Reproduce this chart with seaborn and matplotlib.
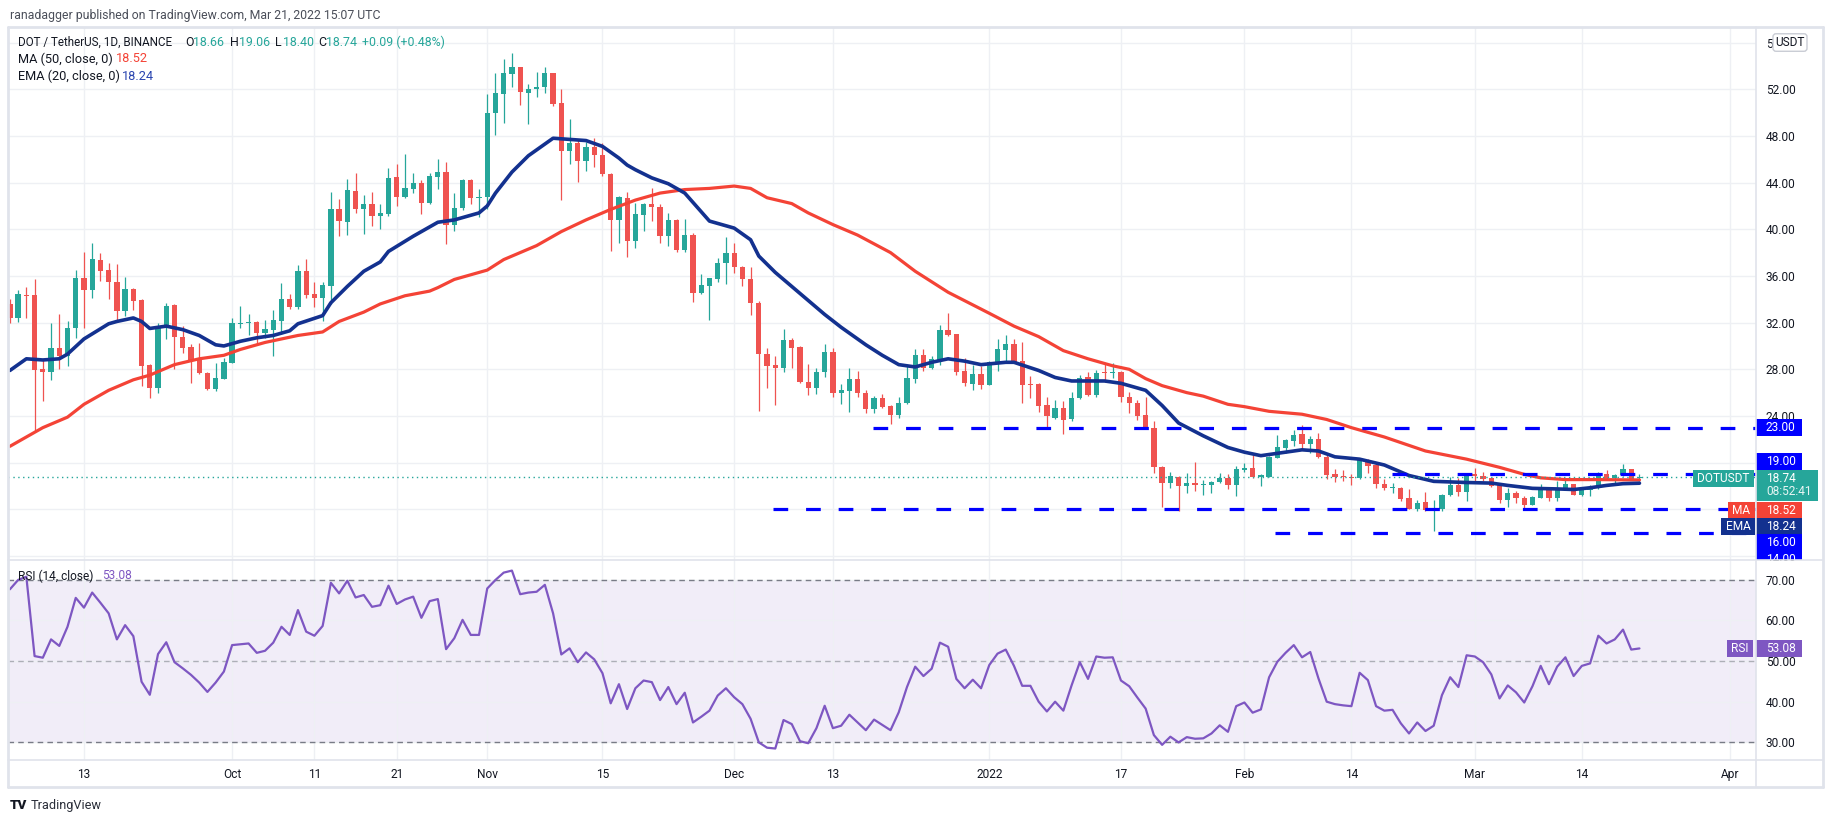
import numpy as np
import pandas as pd
import seaborn as sns
import matplotlib
matplotlib.use('Agg')
import matplotlib.pyplot as plt
import matplotlib.dates as mdates
import matplotlib.transforms as mtransforms
from matplotlib import font_manager
from matplotlib.patches import Rectangle, FancyBboxPatch

# ---------------- data ----------------
# DOT/USDT daily candles, 4 Sep 2021 .. 21 Mar 2022
start, end = '2021-09-04', '2022-03-21'
opens = [
    33.57, 32.37, 34.37, 34.34, 28.00, 27.77, 29.86, 29.14, 31.57, 35.80,
    34.80, 37.34, 36.49, 35.51, 33.00, 34.86, 33.91, 28.34, 26.37, 31.57,
    33.49, 30.80, 29.91, 28.86, 27.71, 26.29, 27.20, 28.57, 31.91, 32.00,
    32.06, 31.14, 31.37, 32.14, 34.00, 33.34, 36.43, 34.43, 34.09, 35.14,
    41.71, 40.63, 43.29, 41.71, 42.14, 41.14, 41.29, 44.49, 42.77, 43.49,
    43.94, 42.23, 44.49, 44.94, 40.37, 41.80, 44.20, 42.71, 42.77, 50.00,
    51.57, 53.29, 53.86, 51.66, 52.00, 52.20, 53.37, 50.80, 46.71, 47.43,
    45.86, 47.09, 46.37, 44.77, 40.80, 42.71, 39.00, 41.23, 42.14, 41.94,
    39.43, 40.77, 38.20, 39.49, 34.51, 35.14, 35.71, 37.14, 38.00, 36.80,
    35.77, 33.71, 29.34, 28.34, 28.14, 30.49, 29.91, 26.94, 26.43, 27.77,
    29.51, 26.00, 26.14, 27.14, 26.00, 24.57, 25.51, 24.86, 24.09, 25.09,
    27.14, 29.20, 28.09, 28.71, 31.34, 31.00, 27.83, 26.71, 27.57, 26.66,
    28.51, 29.63, 30.14, 28.69, 26.77, 26.71, 24.91, 23.86, 24.66, 23.71,
    25.51, 27.37, 25.77, 27.74, 27.66, 27.77, 25.66, 25.14, 24.06, 23.00,
    19.66, 18.23, 18.80, 18.00, 18.29, 18.09, 18.09, 18.34, 18.69, 18.09,
    19.34, 19.57, 18.80, 18.80, 20.43, 21.23, 21.86, 22.43, 21.57, 22.00,
    20.51, 19.00, 18.80, 18.77, 18.66, 20.20, 19.77, 18.20, 17.83, 17.86,
    16.94, 16.05, 16.66, 16.00, 16.05, 17.23, 18.05, 17.48, 19.00, 18.85,
    18.66, 18.05, 16.80, 17.37, 17.00, 16.37, 17.00, 17.86, 16.94, 17.71,
    18.14, 17.23, 17.66, 17.80, 19.05, 18.66, 18.94, 19.43, 18.66,
]
highs = [
    34.00, 34.80, 35.09, 35.72, 28.86, 31.94, 32.71, 32.14, 36.49, 38.09,
    38.80, 38.00, 37.14, 37.00, 35.94, 34.94, 34.00, 28.43, 32.00, 33.66,
    33.57, 31.71, 30.14, 30.23, 27.77, 28.57, 29.00, 32.37, 33.43, 32.71,
    32.14, 32.23, 33.09, 35.37, 34.43, 36.91, 37.49, 35.51, 35.49, 43.23,
    42.57, 44.29, 44.80, 42.94, 43.23, 42.14, 45.29, 45.57, 46.43, 44.80,
    44.20, 44.80, 46.00, 45.80, 43.14, 44.34, 44.34, 43.43, 51.57, 53.37,
    54.57, 55.09, 53.94, 52.43, 53.49, 53.86, 53.43, 52.06, 49.43, 47.66,
    47.49, 47.86, 47.43, 44.80, 42.86, 43.20, 42.23, 42.29, 43.57, 42.14,
    41.43, 40.86, 40.91, 39.66, 36.14, 35.86, 37.57, 39.37, 38.80, 36.86,
    36.80, 33.86, 29.80, 29.14, 31.49, 30.66, 30.00, 28.43, 28.14, 30.14,
    29.86, 26.71, 28.09, 27.86, 26.20, 25.71, 25.86, 24.94, 25.63, 28.29,
    29.77, 29.71, 29.14, 31.77, 32.80, 31.06, 29.00, 28.37, 28.29, 28.71,
    30.63, 30.91, 30.57, 30.37, 27.43, 26.80, 25.63, 25.34, 25.29, 26.06,
    27.49, 27.77, 27.94, 28.43, 28.57, 27.86, 26.09, 25.34, 25.66, 23.57,
    19.71, 19.23, 18.86, 19.09, 20.09, 18.51, 18.43, 19.09, 19.00, 19.71,
    20.00, 20.63, 19.00, 20.57, 22.34, 22.06, 22.77, 23.20, 22.28, 22.51,
    20.71, 19.43, 19.37, 19.00, 20.40, 20.28, 19.85, 18.63, 18.23, 17.94,
    17.77, 16.77, 17.51, 16.77, 17.28, 18.77, 18.71, 19.14, 19.57, 19.23,
    18.71, 18.11, 17.85, 17.57, 17.14, 17.14, 18.14, 17.94, 18.43, 18.71,
    18.20, 17.85, 18.05, 19.20, 19.34, 19.05, 19.85, 19.48, 19.06,
]
lows = [
    32.00, 32.06, 32.43, 22.72, 25.29, 27.09, 28.00, 28.29, 30.71, 31.57,
    34.09, 35.57, 34.06, 32.23, 32.57, 33.09, 26.57, 25.57, 26.00, 30.57,
    28.00, 29.43, 26.86, 27.57, 26.23, 26.14, 27.14, 28.51, 31.57, 30.91,
    30.14, 30.71, 29.14, 31.00, 33.14, 33.14, 34.14, 33.37, 32.14, 33.57,
    39.43, 39.49, 41.37, 39.57, 40.29, 40.00, 41.14, 42.00, 42.71, 43.09,
    41.29, 42.14, 43.43, 38.71, 39.86, 41.66, 42.14, 41.09, 41.71, 48.06,
    49.09, 52.23, 50.63, 49.00, 51.37, 51.71, 50.57, 42.51, 45.57, 44.06,
    45.00, 45.37, 44.57, 38.14, 38.86, 37.66, 38.37, 39.86, 40.71, 38.80,
    38.57, 38.06, 38.06, 33.77, 34.43, 32.23, 35.49, 35.29, 36.29, 35.14,
    32.66, 24.43, 26.37, 24.94, 27.77, 28.14, 26.86, 25.80, 25.91, 27.37,
    25.63, 25.00, 24.34, 25.63, 24.23, 24.23, 24.66, 23.29, 23.86, 25.00,
    26.86, 27.86, 28.00, 28.34, 30.86, 27.49, 26.57, 26.23, 26.34, 26.63,
    27.86, 28.71, 28.57, 25.09, 25.51, 24.34, 23.00, 23.71, 22.43, 23.57,
    25.49, 25.71, 25.66, 26.91, 27.29, 25.20, 24.29, 23.66, 22.91, 19.14,
    16.20, 17.86, 15.86, 17.37, 17.57, 17.23, 17.37, 18.23, 17.71, 17.14,
    19.23, 18.71, 18.00, 18.77, 20.43, 20.86, 21.43, 21.06, 20.80, 20.43,
    18.63, 18.34, 18.43, 18.06, 18.63, 19.08, 17.80, 17.63, 17.37, 16.71,
    16.00, 15.85, 15.85, 14.14, 15.85, 17.14, 17.14, 16.71, 18.34, 18.43,
    17.91, 16.57, 16.20, 16.57, 16.05, 16.34, 16.94, 16.71, 16.71, 17.63,
    17.20, 17.14, 17.14, 17.71, 18.57, 18.23, 18.85, 18.48, 18.40,
]
closes = [
    32.43, 34.43, 34.29, 27.94, 27.77, 29.86, 29.14, 31.57, 35.80, 34.80,
    37.43, 36.43, 35.49, 33.00, 34.86, 33.86, 28.29, 26.37, 31.63, 33.43,
    30.80, 29.86, 28.71, 27.66, 26.29, 27.29, 28.66, 31.94, 32.00, 32.06,
    31.14, 31.43, 32.20, 34.00, 33.34, 36.43, 34.37, 34.09, 35.20, 41.71,
    40.71, 43.34, 41.71, 42.14, 41.14, 41.37, 44.43, 42.77, 43.51, 43.94,
    42.23, 44.57, 44.94, 40.37, 41.86, 44.20, 42.66, 42.80, 50.00, 51.66,
    53.37, 53.86, 51.77, 52.06, 52.23, 53.37, 50.71, 46.71, 47.43, 45.86,
    47.09, 46.37, 44.71, 40.80, 42.77, 39.00, 41.29, 42.14, 41.94, 39.43,
    40.77, 38.20, 39.49, 34.51, 35.20, 35.80, 37.14, 37.94, 36.80, 35.77,
    33.66, 29.34, 28.29, 28.14, 30.51, 29.86, 26.91, 26.43, 27.80, 29.51,
    26.00, 26.23, 27.14, 26.00, 24.57, 25.51, 24.77, 24.09, 25.14, 27.23,
    29.20, 28.09, 28.86, 31.34, 30.91, 27.77, 26.80, 27.57, 26.66, 28.63,
    29.71, 30.14, 28.63, 26.63, 26.66, 24.86, 24.00, 24.66, 23.66, 25.57,
    27.29, 25.80, 27.71, 27.66, 27.74, 25.63, 25.14, 24.00, 23.00, 19.63,
    18.23, 18.86, 18.00, 18.29, 18.09, 18.14, 18.37, 18.69, 18.09, 19.43,
    19.57, 18.77, 18.91, 20.51, 21.37, 21.91, 22.34, 21.57, 22.00, 20.48,
    18.91, 18.77, 18.74, 18.71, 20.28, 19.71, 18.14, 17.80, 17.91, 16.86,
    16.05, 16.57, 15.94, 16.14, 17.23, 18.05, 17.48, 18.97, 18.85, 18.57,
    18.00, 16.80, 17.37, 16.94, 16.37, 17.05, 17.91, 16.94, 17.77, 18.14,
    17.23, 17.71, 17.86, 19.05, 18.66, 18.94, 19.43, 18.57, 18.74,
]
rsi = [
    67.6, 69.9, 70.7, 51.2, 50.8, 55.3, 53.7, 58.4, 65.5, 63.1,
    66.8, 64.3, 61.7, 55.3, 58.8, 56.1, 44.9, 41.7, 51.7, 54.6,
    49.7, 48.2, 46.6, 44.7, 42.4, 44.7, 47.4, 53.9, 54.1, 54.3,
    52.0, 52.5, 54.5, 58.4, 56.4, 62.5, 57.2, 56.2, 58.6, 69.2,
    66.6, 69.7, 65.6, 66.2, 63.3, 63.7, 68.5, 64.0, 65.1, 65.8,
    60.6, 64.7, 65.2, 52.9, 55.6, 60.1, 56.4, 56.4, 67.8, 69.9,
    71.7, 72.2, 66.4, 66.8, 67.0, 68.7, 61.7, 51.6, 53.1, 49.7,
    52.1, 50.4, 47.0, 39.6, 44.3, 38.2, 43.3, 45.2, 44.8, 40.4,
    43.6, 39.4, 42.2, 34.9, 36.3, 37.8, 41.5, 43.3, 41.1, 39.4,
    35.8, 30.0, 28.7, 28.5, 35.5, 34.5, 30.3, 29.8, 33.5, 39.0,
    33.5, 34.1, 36.8, 34.9, 33.0, 35.6, 34.3, 33.0, 37.4, 43.6,
    48.6, 46.3, 48.1, 54.5, 53.5, 45.6, 43.3, 45.4, 43.3, 49.0,
    51.8, 52.8, 48.8, 43.9, 43.9, 40.0, 37.6, 40.0, 37.8, 44.0,
    49.7, 45.6, 51.1, 50.8, 50.9, 45.2, 43.8, 41.0, 38.3, 31.8,
    29.4, 31.4, 30.0, 31.3, 30.9, 31.0, 32.2, 34.2, 32.6, 38.9,
    39.8, 37.3, 38.1, 46.0, 49.8, 52.0, 53.9, 50.9, 52.2, 45.7,
    40.0, 39.4, 39.1, 38.9, 47.1, 45.3, 38.9, 37.8, 38.0, 34.7,
    32.2, 34.9, 32.8, 34.1, 41.6, 46.0, 43.6, 51.4, 51.1, 49.7,
    46.7, 40.8, 44.0, 42.3, 39.8, 43.8, 48.8, 44.3, 48.6, 50.9,
    46.3, 48.8, 49.4, 56.2, 54.3, 55.3, 57.7, 52.8, 53.08,
]

# moving averages as drawn, sampled along the curve (days after 13 Sep 2021)
ref_day = '2021-09-13'
ema_days = [-9, -7, -5, -3, -2, 0, 3, 4, 6, 7, 8, 10, 12, 14, 16, 17, 19, 21, 23, 25,
            26, 29, 30, 32, 34, 36, 37, 40, 43, 45, 48, 49, 50, 52, 54, 56, 57, 59, 61, 63,
            65, 66, 67, 69, 71, 73, 75, 76, 79, 81, 82, 84, 86, 88, 90, 92, 93, 95, 97, 99,
            101, 103, 105, 107, 109, 112, 113, 116, 118, 120, 124, 126, 129, 131, 133, 136,
            139, 141, 143, 145, 148, 150, 152, 155, 158, 161, 164, 168, 171, 173, 176, 179,
            181, 183, 185, 187, 189]
ema_vals = [27.9, 28.9, 28.8, 28.9, 29.3, 30.6, 31.9, 32.1, 32.4, 32.1, 31.5, 31.7, 31.4,
            30.9, 30.1, 30.0, 30.4, 30.7, 30.9, 31.3, 31.9, 32.6, 33.7, 35.1, 36.4, 37.2,
            38.1, 39.4, 40.6, 40.8, 41.4, 42.0, 43.1, 44.9, 46.3, 47.3, 47.8, 47.7, 47.6,
            47.1, 46.1, 45.5, 45.1, 44.4, 43.9, 43.1, 41.5, 40.7, 40.1, 39.1, 37.7, 36.3,
            35.1, 33.9, 32.7, 31.6, 31.1, 30.1, 29.2, 28.4, 28.2, 28.6, 28.9, 28.7, 28.4,
            28.6, 28.6, 27.9, 27.3, 27.0, 27.0, 26.8, 26.2, 24.9, 23.4, 22.3, 21.3, 20.9,
            20.6, 20.8, 21.1, 21.0, 20.5, 20.3, 19.8, 18.9, 18.4, 18.3, 18.25, 18.05, 17.8,
            17.75, 17.7, 17.85, 18.05, 18.2, 18.24]
ma_days = [-9, -7, -5, -2, 0, 3, 6, 8, 11, 14, 17, 19, 22, 26, 29, 31, 34, 36, 39, 42,
           43, 45, 49, 51, 55, 58, 61, 64, 67, 70, 73, 76, 79, 81, 83, 86, 88, 91, 94, 98,
           101, 105, 110, 113, 116, 119, 122, 125, 127, 129, 131, 134, 136, 139, 141, 144,
           148, 151, 154, 158, 163, 168, 172, 175, 177, 180, 184, 189]
ma_vals = [21.4, 22.2, 23.0, 23.9, 25.0, 26.2, 27.1, 27.5, 28.4, 28.9, 29.2, 29.7, 30.3,
           30.9, 31.2, 32.1, 32.9, 33.6, 34.3, 34.7, 35.0, 35.7, 36.5, 37.4, 38.6, 39.8,
           40.8, 41.7, 42.5, 43.1, 43.4, 43.5, 43.7, 43.5, 42.7, 42.2, 41.4, 40.4, 39.5,
           38.0, 36.4, 34.6, 32.8, 31.7, 30.8, 29.6, 28.9, 28.3, 28.0, 27.2, 26.6, 26.0,
           25.7, 25.0, 24.8, 24.4, 24.15, 23.7, 23.0, 22.2, 21.0, 20.3, 19.6, 19.0, 18.7,
           18.55, 18.55, 18.52]

# horizontal levels drawn by the author, and the day each one starts
levels = [23.0, 19.0, 16.0, 14.0]
level_from = [95.9, 158.9, 83.7, 144.7]

tick_dates = ['2021-09-13', '2021-10-01', '2021-10-11', '2021-10-21', '2021-11-01',
              '2021-11-15', '2021-12-01', '2021-12-13', '2022-01-01', '2022-01-17',
              '2022-02-01', '2022-02-14', '2022-03-01', '2022-03-14', '2022-04-01']
tick_labels = ['13', 'Oct', '11', '21', 'Nov', '15', 'Dec', '13', '2022', '17',
               'Feb', '14', 'Mar', '14', 'Apr']
price_ticks = list(range(12, 57, 4))
rsi_ticks = [30, 40, 50, 60, 70]

# ---------------- style ----------------
UP, DOWN = '#26a69a', '#ef5350'
MA_C, EMA_C, LVL_C, RSI_C = '#f44336', '#13318f', '#0000ff', '#7e57c2'
TXT, FRAME, GRID = '#131722', '#e0e3eb', '#eef0f4'

sns.set_theme(style='white')
installed = {f.name for f in font_manager.fontManager.ttflist}
if 'Liberation Sans Narrow' in installed:
    FONT, FS = 'Liberation Sans Narrow', 10
else:
    FONT, FS = 'Roboto', 8.6
plt.rcParams['font.family'] = [FONT, 'DejaVu Sans']

W, H = 1834, 823
fig = plt.figure(figsize=(W / 100, H / 100), dpi=100)
fig.patch.set_facecolor('white')
px = mtransforms.Affine2D().scale(1 / W, -1 / H).translate(0, 1) + fig.transFigure

ax = fig.add_axes([8 / W, 1 - 560 / H, 1748 / W, 533 / H])
axr = fig.add_axes([8 / W, 1 - 760 / H, 1748 / W, 200 / H], sharex=ax)

x0 = mdates.date2num(pd.Timestamp(ref_day))
xs = mdates.date2num(pd.date_range(start, end, freq='D'))
xlim = (x0 - 9.23, x0 + 203.16)
p_lim = (11.66, 57.33)
r_lim = (25.68, 74.8)

# ---------------- price panel ----------------
o, hi, lo, c = map(np.array, (opens, highs, lows, closes))
cols = np.where(c >= o, UP, DOWN)
ax.vlines(xs, lo, hi, colors=cols, lw=0.9, zorder=2)
ax.bar(xs, np.maximum(np.abs(c - o), 0.09), bottom=np.minimum(o, c), width=0.64,
       color=cols, lw=0, zorder=3)

sns.lineplot(x=x0 + np.array(ma_days), y=ma_vals, ax=ax, color=MA_C, lw=2.3,
             sort=False, estimator=None, zorder=4)
sns.lineplot(x=x0 + np.array(ema_days), y=ema_vals, ax=ax, color=EMA_C, lw=2.6,
             sort=False, estimator=None, zorder=4)

for lv, d in zip(levels, level_from):
    ax.hlines(lv, x0 + d, xlim[1], colors=LVL_C, lw=2.3,
              linestyles=[(0, (4.6, 5.6))], zorder=5)
ax.axhline(closes[-1], color=UP, lw=1, ls=(0, (1, 2.5)), zorder=4)

ax.set_xlim(*xlim)
ax.set_ylim(*p_lim)
ax.set_yticks(price_ticks)
# the top label sits under the currency badge; only its first digit shows
ax.set_yticklabels([f'{v:.2f}' for v in price_ticks[:-1]] + ['5'])
ax.yaxis.tick_right()
ax.tick_params(axis='y', length=0, pad=7, labelsize=FS, labelcolor=TXT)
ax.tick_params(axis='x', length=0, labelbottom=False)
ax.grid(True, color=GRID, lw=1, zorder=0)
for s in ax.spines.values():
    s.set_visible(False)

# ---------------- RSI panel ----------------
axr.axhspan(30, 70, color=RSI_C, alpha=0.1, lw=0, zorder=0)
for lv, a in ((70, 1.0), (50, 0.55), (30, 1.0)):
    axr.axhline(lv, color='#787b86', alpha=a, lw=1, ls=(0, (4, 3)), zorder=1)
sns.lineplot(x=xs, y=rsi, ax=axr, color=RSI_C, lw=1.6, sort=False,
             estimator=None, zorder=3)
axr.set_ylim(*r_lim)
axr.set_yticks(rsi_ticks)
axr.set_yticklabels([f'{v:.2f}' for v in rsi_ticks])
axr.yaxis.tick_right()
axr.tick_params(axis='y', length=0, pad=7, labelsize=FS, labelcolor=TXT)
axr.set_xticks(mdates.date2num(pd.to_datetime(tick_dates)))
axr.set_xticklabels(tick_labels)
axr.tick_params(axis='x', length=0, pad=6, labelsize=FS, labelcolor=TXT)
axr.grid(True, color=GRID, lw=1, zorder=0)
axr.set_xlim(*xlim)
for s in axr.spines.values():
    s.set_visible(False)

# ---------------- frame ----------------
def frame_line(xa, ya, xb, yb, lw=1.2):
    fig.add_artist(plt.Line2D([xa, xb], [ya, yb], transform=px, color=FRAME, lw=lw))

frame_line(8, 27, 1823, 27, 2)
frame_line(8, 787, 1823, 787, 2)
frame_line(8, 27, 8, 787, 2)
frame_line(1823, 27, 1823, 787, 2)
frame_line(8, 560, 1823, 560)
frame_line(8, 760, 1823, 760)
frame_line(1756, 27, 1756, 787)

# ---------------- scale labels ----------------
p_upp = (p_lim[1] - p_lim[0]) / 533
r_upp = (r_lim[1] - r_lim[0]) / 200

sax = fig.add_axes([1756 / W, 1 - 560 / H, 67 / W, 533 / H])
sax.set_xlim(0, 67)
sax.set_ylim(*p_lim)
sax.axis('off')
rax = fig.add_axes([1756 / W, 1 - 760 / H, 67 / W, 200 / H])
rax.set_xlim(0, 67)
rax.set_ylim(*r_lim)
rax.axis('off')


def value_tag(a, y, text, fc, upp, w=46, hpx=17):
    a.add_patch(Rectangle((0, y - hpx * upp / 2), w, hpx * upp, fc=fc, ec='none'))
    a.text(10, y, text, color='white', fontsize=FS, va='center', ha='left', clip_on=True)


def name_tag(a, y, text, fc, xa, xb, upp, hpx=17):
    bt = mtransforms.blended_transform_factory(px, a.transData)
    a.add_artist(Rectangle((xa, y - hpx * upp / 2), xb - xa, hpx * upp, transform=bt,
                           fc=fc, ec='none', clip_on=False, zorder=10))
    a.text((xa + xb) / 2, y, text, transform=bt, color='white', fontsize=FS,
           ha='center', va='center', zorder=11)


# USDT badge over the top tick
sax.add_patch(FancyBboxPatch((17, 56.0 - 0.75), 34, 1.5,
                             boxstyle='round,pad=0,rounding_size=3',
                             mutation_aspect=p_upp, fc='white', ec='#c9ccd4', lw=1))
sax.text(34, 56.0, 'USDT', color=TXT, fontsize=FS, ha='center', va='center')

# label positions (pushed apart the way the chart stacks them)
value_tag(sax, 23.0, '23.00', LVL_C, p_upp)
value_tag(sax, 20.08, '19.00', LVL_C, p_upp)
sax.add_patch(Rectangle((0, 18.04 - 15.5 * p_upp), 62, 31 * p_upp, fc=UP, ec='none'))
sax.text(10, 18.62, f'{closes[-1]:.2f}', color='white', fontsize=FS, va='center')
sax.text(10, 17.50, '08:52:41', color='#e6f5f3', fontsize=FS, va='center')
value_tag(sax, 15.94, f'{ma_vals[-1]:.2f}', MA_C, p_upp)
value_tag(sax, 14.49, f'{ema_vals[-1]:.2f}', EMA_C, p_upp)
value_tag(sax, 13.12, '16.00', LVL_C, p_upp)
value_tag(sax, 11.70, '14.00', LVL_C, p_upp)
name_tag(ax, 18.62, 'DOTUSDT', UP, 1693, 1754, p_upp)
name_tag(ax, 15.94, 'MA', MA_C, 1728, 1755, p_upp)
name_tag(ax, 14.49, 'EMA', EMA_C, 1721, 1755, p_upp)

value_tag(rax, rsi[-1], f'{rsi[-1]:.2f}', RSI_C, r_upp)
name_tag(axr, rsi[-1], 'RSI', RSI_C, 1727, 1753, r_upp)

# ---------------- texts ----------------
def ftext(x, y, s, color=TXT, size=FS, **kw):
    fig.text(x, y, s, transform=px, color=color, fontsize=size, va='center', ha='left', **kw)


ftext(10, 15, 'ranadagger published on TradingView.com, Mar 21, 2022 15:07 UTC',
      color='#4a4e59', size=FS + 0.2)
ftext(18, 42, 'DOT / TetherUS, 1D, BINANCE', size=FS - 0.2)
for xp, s, colr in ((185, 'O', TXT), (193, '18.66', UP), (230, 'H', TXT), (239, '19.06', UP),
                    (275, 'L', TXT), (283, '18.40', UP), (318, 'C', TXT), (326, '18.74', UP),
                    (362, '+0.09 (+0.48%)', UP)):
    ftext(xp, 42, s, color=colr, size=FS + 0.3)
ftext(18, 59, 'MA (50, close, 0)', size=FS + 0.6)
ftext(116, 59, f'{ma_vals[-1]:.2f}', color=MA_C, size=FS + 0.6)
ftext(18, 76, 'EMA (20, close, 0)', size=FS + 0.6)
ftext(122, 76, f'{ema_vals[-1]:.2f}', color='#2a45b0', size=FS + 0.6)
ftext(18, 576, 'RSI (14, close)', size=FS)
ftext(102, 576, f'{rsi[-1]:.2f}', color=RSI_C, size=FS)

ftext(10, 806, 'TV', size=FS + 1, fontweight='heavy')
ftext(31, 806, 'TradingView', color='#2a2e39', size=FS + 0.6)

fig.savefig('out.png', dpi=100, facecolor='white')
